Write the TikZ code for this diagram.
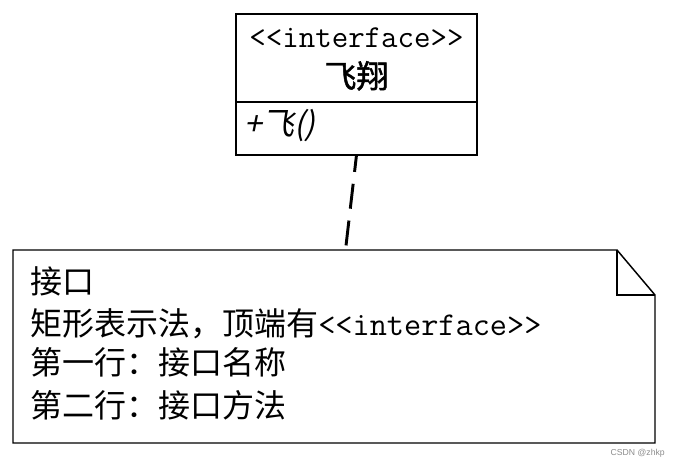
\documentclass[tikz,border=0pt]{standalone}
\usepackage{fontspec}
\newfontfamily\cjk{Noto Sans CJK SC}
\newfontfamily\cjkbold[FakeBold=1.5]{Noto Sans CJK SC}
\newfontfamily\cjkit[FakeSlant=0.2]{Noto Sans CJK SC}
\newfontfamily\wmfont{Liberation Sans}
\begin{document}
\begin{tikzpicture}[x=0.75pt,y=-0.75pt,
  boxline/.style={draw=black,line width=2.2pt},
  notetext/.style={anchor=base west,inner sep=0pt,font=\fontsize{24}{30}\selectfont\cjk},
  boxtext/.style={inner sep=0pt,font=\fontsize{24}{30}\selectfont\cjk},
  noteline/.style={draw=black,line width=1.1pt,line join=miter}]
\path[use as bounding box] (0,0) rectangle (675,470);
% class box
\node[boxline,minimum width=180.75pt,minimum height=66pt,inner sep=0pt,outer sep=0pt] (head) at (356.5,58) {};
\node[boxline,minimum width=180.75pt,minimum height=39.75pt,inner sep=0pt,outer sep=0pt,anchor=north] (ops) at (head.south) {};
\node[boxtext,anchor=base,font=\fontsize{24}{30}\selectfont\ttfamily] (stereo) at (356.5,48) {<<interface>>};
\node[boxtext,anchor=base,font=\fontsize{24}{30}\selectfont\cjkbold] (name) at (356.5,88) {飞翔};
\node[boxtext,anchor=base west,font=\fontsize{24}{30}\selectfont\cjkit] (op) at (244,136) {+飞()};
% note
\node[minimum width=481.5pt,minimum height=144.75pt,inner sep=0pt,outer sep=0pt] (note) at (334,346.5) {};
\coordinate (foldtop) at (617,250);
\coordinate (foldright) at (655,295);
\coordinate (foldin) at (617,295);
\path[noteline] (note.north west) -- (foldtop) -- (foldright) -- (note.south east) -- (note.south west) -- cycle;
\path[noteline] (foldtop) -- (foldin) -- (foldright);
\node[notetext] (l1) at (30,294) {接口};
\node[notetext] (l2) at (30,335) {矩形表示法，顶端有{\fontsize{25}{30}\selectfont\ttfamily <<interface>>}};
\node[notetext] (l3) at (30,375) {第一行：接口名称};
\node[notetext] (l4) at (30,417) {第二行：接口方法};
% connector
\coordinate (noteanchor) at (345.5,250);
\draw[line width=2.2pt,dash pattern=on 18.75pt off 9pt,dash phase=6pt] (ops.south) -- (noteanchor);
% watermark
\node[inner sep=0pt,anchor=east,text=black!45,font=\fontsize{6.5}{8}\selectfont\wmfont] (wm) at (665,453) {CSDN @zhkp};
\end{tikzpicture}
\end{document}
